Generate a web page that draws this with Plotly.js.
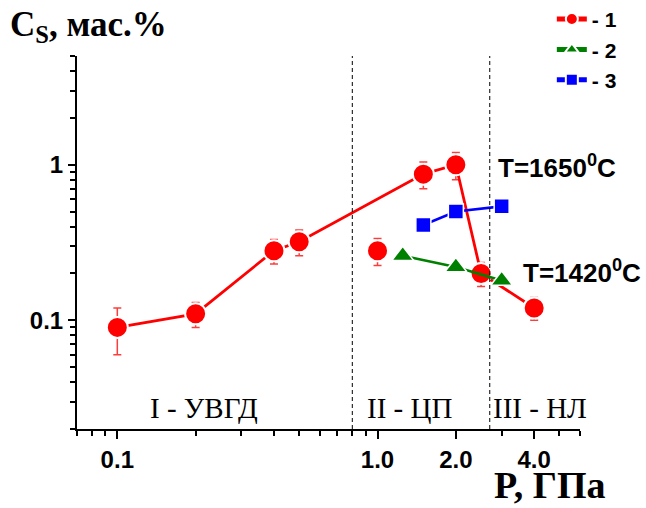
<!DOCTYPE html>
<html>
<head>
<meta charset="utf-8">
<script src="https://cdn.plot.ly/plotly-3.0.1.min.js"></script>
<style>html,body{margin:0;padding:0;background:#fff;}#chart{width:646px;height:508px;}</style>
</head>
<body>
<div id="chart"></div>
<script>
// Series 1 (red circles) — last point is an isolated measurement at 1.0 GPa
const p1 = [0.1, 0.2, 0.4, 0.5, 1.5, 2.0, 2.5, 4.0, null, 1.0];
const c1 = [0.09, 0.11, 0.28, 0.32, 0.87, 1.0, 0.2, 0.12, null, 0.28];
const e1 = [0.03, 0.02, 0.05, 0.06, 0.17, 0.2, 0.035, 0.02, null, 0.055];
// Series 2 (green triangles)
const p2 = [1.25, 2.0, 3.0];
const c2 = [0.26, 0.22, 0.18];
// Series 3 (blue squares)
const p3 = [1.5, 2.0, 3.0];
const c3 = [0.41, 0.5, 0.54];
// Region boundaries (GPa)
const boundaries = [0.8, 2.7];
// Tick labels
const xTickVals = [0.1, 1, 2, 4];
const xTickText = ['0.1', '1.0', '2.0', '4.0'];
const xMinorVals = [0.07, 0.08, 0.09, 0.2, 0.3, 0.4, 0.5, 0.6, 0.7, 0.8, 0.9, 3, 5, 6];
const yTickVals = [0.1, 1];
const yTickText = ['0.1', '1'];
const yMinorVals = [0.02, 0.03, 0.04, 0.05, 0.06, 0.07, 0.08, 0.09, 0.2, 0.3, 0.4, 0.5, 0.6, 0.7, 0.8, 0.9, 2, 3, 4, 5];
const seriesNames = ['- 1', '- 2', '- 3'];
const regionLabels = ['I - УВГД', 'II - ЦП', 'III - НЛ'];

const xRange = [Math.log10(0.07), Math.log10(6)];
const yRange = [Math.log10(0.02), Math.log10(5)];

const traces = [];
traces.push({
  x: p1, y: c1, name: seriesNames[0], legendgroup: 'a',
  mode: 'lines+markers', connectgaps: false,
  line: {color: '#ff0000', width: 2.8},
  marker: {symbol: 'circle', size: 21, color: '#ff0000', line: {color: '#fff', width: 2}},
  error_y: {type: 'data', array: e1, visible: true, color: '#ff3c3c', thickness: 1.5, width: 4}
});
traces.push({
  x: p2, y: c2, name: seriesNames[1], legendgroup: 'b',
  mode: 'lines+markers',
  line: {color: '#008000', width: 2.6},
  marker: {symbol: 'triangle-up', size: 19, color: '#008000', line: {color: '#fff', width: 1.5}}
});
traces.push({
  x: p3, y: c3, name: seriesNames[2], legendgroup: 'c',
  mode: 'lines+markers',
  line: {color: '#0000ff', width: 2.6},
  marker: {symbol: 'square', size: 15, color: '#0000ff', line: {color: '#fff', width: 1.5}}
});
boundaries.forEach(b => {
  traces.push({
    x: [b, b], y: [Math.pow(10, yRange[0]), Math.pow(10, yRange[1])],
    mode: 'lines', line: {color: '#000', width: 1, dash: '4px,3px'},
    showlegend: false, hoverinfo: 'skip'
  });
});

const serif = 'Liberation Serif, Times New Roman, serif';
const sans = 'Liberation Sans, Arial, sans-serif';

const layout = {
  width: 646, height: 508,
  margin: {l: 77, r: 66, t: 56, b: 79, autoexpand: false},
  paper_bgcolor: '#fff', plot_bgcolor: '#fff',
  font: {family: sans, color: '#000'},
  showlegend: true,
  legend: {x: 0.944, y: 1.153, xanchor: 'left', yanchor: 'top',
           font: {family: sans, size: 21, weight: 'bold', color: '#000'},
           bgcolor: 'rgba(0,0,0,0)', tracegroupgap: 0, itemsizing: 'constant'},
  xaxis: {
    type: 'log', range: xRange, showgrid: false, zeroline: false, automargin: false,
    showline: true, linecolor: '#000', linewidth: 2,
    ticks: 'outside', ticklen: 8, tickwidth: 2, tickcolor: '#000',
    tickmode: 'array', tickvals: xTickVals, ticktext: xTickText,
    tickfont: {family: sans, size: 24, weight: 'bold', color: '#000'},
    minor: {tickmode: 'array', tickvals: xMinorVals, ticks: 'outside', ticklen: 5, tickwidth: 2, tickcolor: '#000', showgrid: false}
  },
  yaxis: {
    type: 'log', range: yRange, showgrid: false, zeroline: false, automargin: false,
    showline: true, linecolor: '#000', linewidth: 2,
    ticks: 'outside', ticklen: 7, tickwidth: 2, tickcolor: '#000',
    tickmode: 'array', tickvals: yTickVals, ticktext: yTickText,
    tickfont: {family: sans, size: 24, weight: 'bold', color: '#000'},
    minor: {tickmode: 'array', tickvals: yMinorVals, ticks: 'outside', ticklen: 5, tickwidth: 2, tickcolor: '#000', showgrid: false}
  },
  annotations: [
    {text: regionLabels[0], xref: 'paper', yref: 'paper', x: 0.2525, y: 0.056, xanchor: 'center', yanchor: 'middle', showarrow: false, font: {family: serif, size: 29, color: '#000'}},
    {text: regionLabels[1], xref: 'paper', yref: 'paper', x: 0.662, y: 0.056, xanchor: 'center', yanchor: 'middle', showarrow: false, font: {family: serif, size: 29, color: '#000'}},
    {text: regionLabels[2], xref: 'paper', yref: 'paper', x: 0.9205, y: 0.056, xanchor: 'center', yanchor: 'middle', showarrow: false, font: {family: serif, size: 29, color: '#000'}},
    {text: 'T=1650<sup>0</sup>C', xref: 'paper', yref: 'paper', x: 0.833, y: 0.705, xanchor: 'left', yanchor: 'middle', showarrow: false, font: {family: sans, size: 26, weight: 'bold', color: '#000'}},
    {text: 'T=1420<sup>0</sup>C', xref: 'paper', yref: 'paper', x: 0.883, y: 0.423, xanchor: 'left', yanchor: 'middle', showarrow: false, font: {family: sans, size: 26, weight: 'bold', color: '#000'}},
    {text: 'P, ГПа', xref: 'paper', yref: 'paper', x: 0.94, y: -0.2118, xanchor: 'center', yanchor: 'bottom', showarrow: false, font: {family: serif, size: 38, weight: 'bold', color: '#000'}},
    {text: 'C<sub>S</sub>, мас.%', xref: 'paper', yref: 'paper', x: -0.137, y: 1.142, xanchor: 'left', yanchor: 'top', showarrow: false, font: {family: serif, size: 35, weight: 'bold', color: '#000'}}
  ]
};

Plotly.newPlot('chart', traces, layout, {displayModeBar: false, staticPlot: true});
</script>
</body>
</html>
